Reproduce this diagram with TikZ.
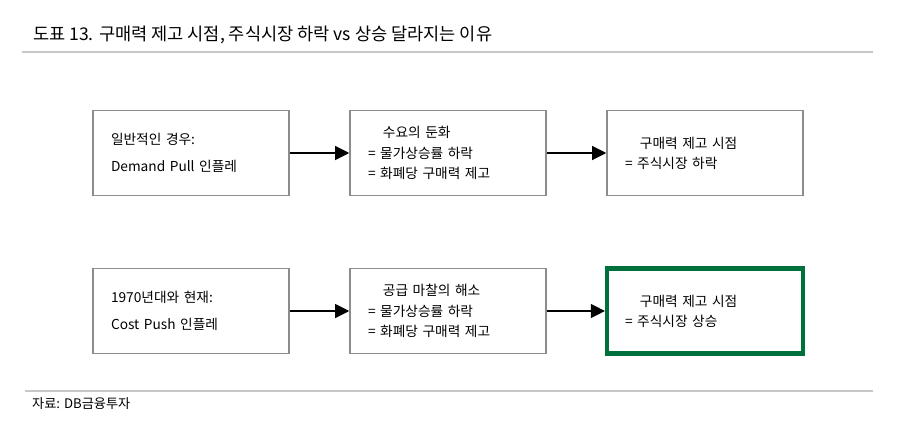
\documentclass[tikz,border=0pt]{standalone}
\usepackage{fontspec}
\setmainfont{Noto Sans CJK KR}
\usetikzlibrary{arrows.meta,positioning}

\definecolor{boxgray}{RGB}{140,140,140}
\definecolor{rulegray}{RGB}{200,200,200}
\definecolor{dbgreen}{RGB}{0,112,60}

\begin{document}
\begin{tikzpicture}[
    x=0.02cm, y=-0.02cm,
    stepbox/.style={draw=boxgray, line width=0.9pt, minimum width=3.92cm,
                    minimum height=1.7cm, text width=3.2cm, align=left,
                    inner xsep=0.36cm, font=\fontsize{7.8}{11.5}\selectfont},
    resultbox/.style={stepbox, draw=dbgreen, line width=2.4pt},
    flow/.style={-{Triangle[length=0.28cm, width=0.28cm]}, line width=0.6pt},
    titletext/.style={anchor=west, font=\fontsize{10}{12}\selectfont},
    sourcetext/.style={anchor=west, font=\fontsize{7.5}{9}\selectfont},
    hrule/.style={draw=rulegray, line width=1.2pt},
]

\def\firstpad{\hspace*{8.5pt}}

% canvas
\useasboundingbox (0,0) rectangle (900,437);

% title
\node[titletext] (title) at (27,35) {도표 13. 구매력 제고 시점, 주식시장 하락 vs 상승 달라지는 이유};
\coordinate (tl) at (22,52);
\coordinate (tr) at (873,52);
\draw[hrule] (tl) -- (tr);

% top row
\node[stepbox] (a1) at (191,153) {일반적인 경우:\\[4pt]Demand Pull 인플레};
\node[stepbox] (a2) at (448,153) {\firstpad 수요의 둔화\\= 물가상승률 하락\\= 화폐당 구매력 제고};
\node[stepbox] (a3) at (705,153) {\firstpad 구매력 제고 시점\\= 주식시장 하락};

% bottom row
\node[stepbox] (b1) at (191,311) {1970년대와 현재:\\[4pt]Cost Push 인플레};
\node[stepbox] (b2) at (448,311) {\firstpad 공급 마찰의 해소\\= 물가상승률 하락\\= 화폐당 구매력 제고};
\node[resultbox] (b3) at (705,311) {\firstpad 구매력 제고 시점\\= 주식시장 상승};

% arrows
\draw[flow] (a1) -- (a2);
\draw[flow] (a2) -- (a3);
\draw[flow] (b1) -- (b2);
\draw[flow] (b2) -- (b3);

% source
\coordinate (sl) at (25,391);
\coordinate (sr) at (873,391);
\draw[draw=rulegray, line width=0.8pt] (sl) -- (sr);
\node[sourcetext] (source) at (26,404) {자료: DB금융투자};

\end{tikzpicture}
\end{document}
